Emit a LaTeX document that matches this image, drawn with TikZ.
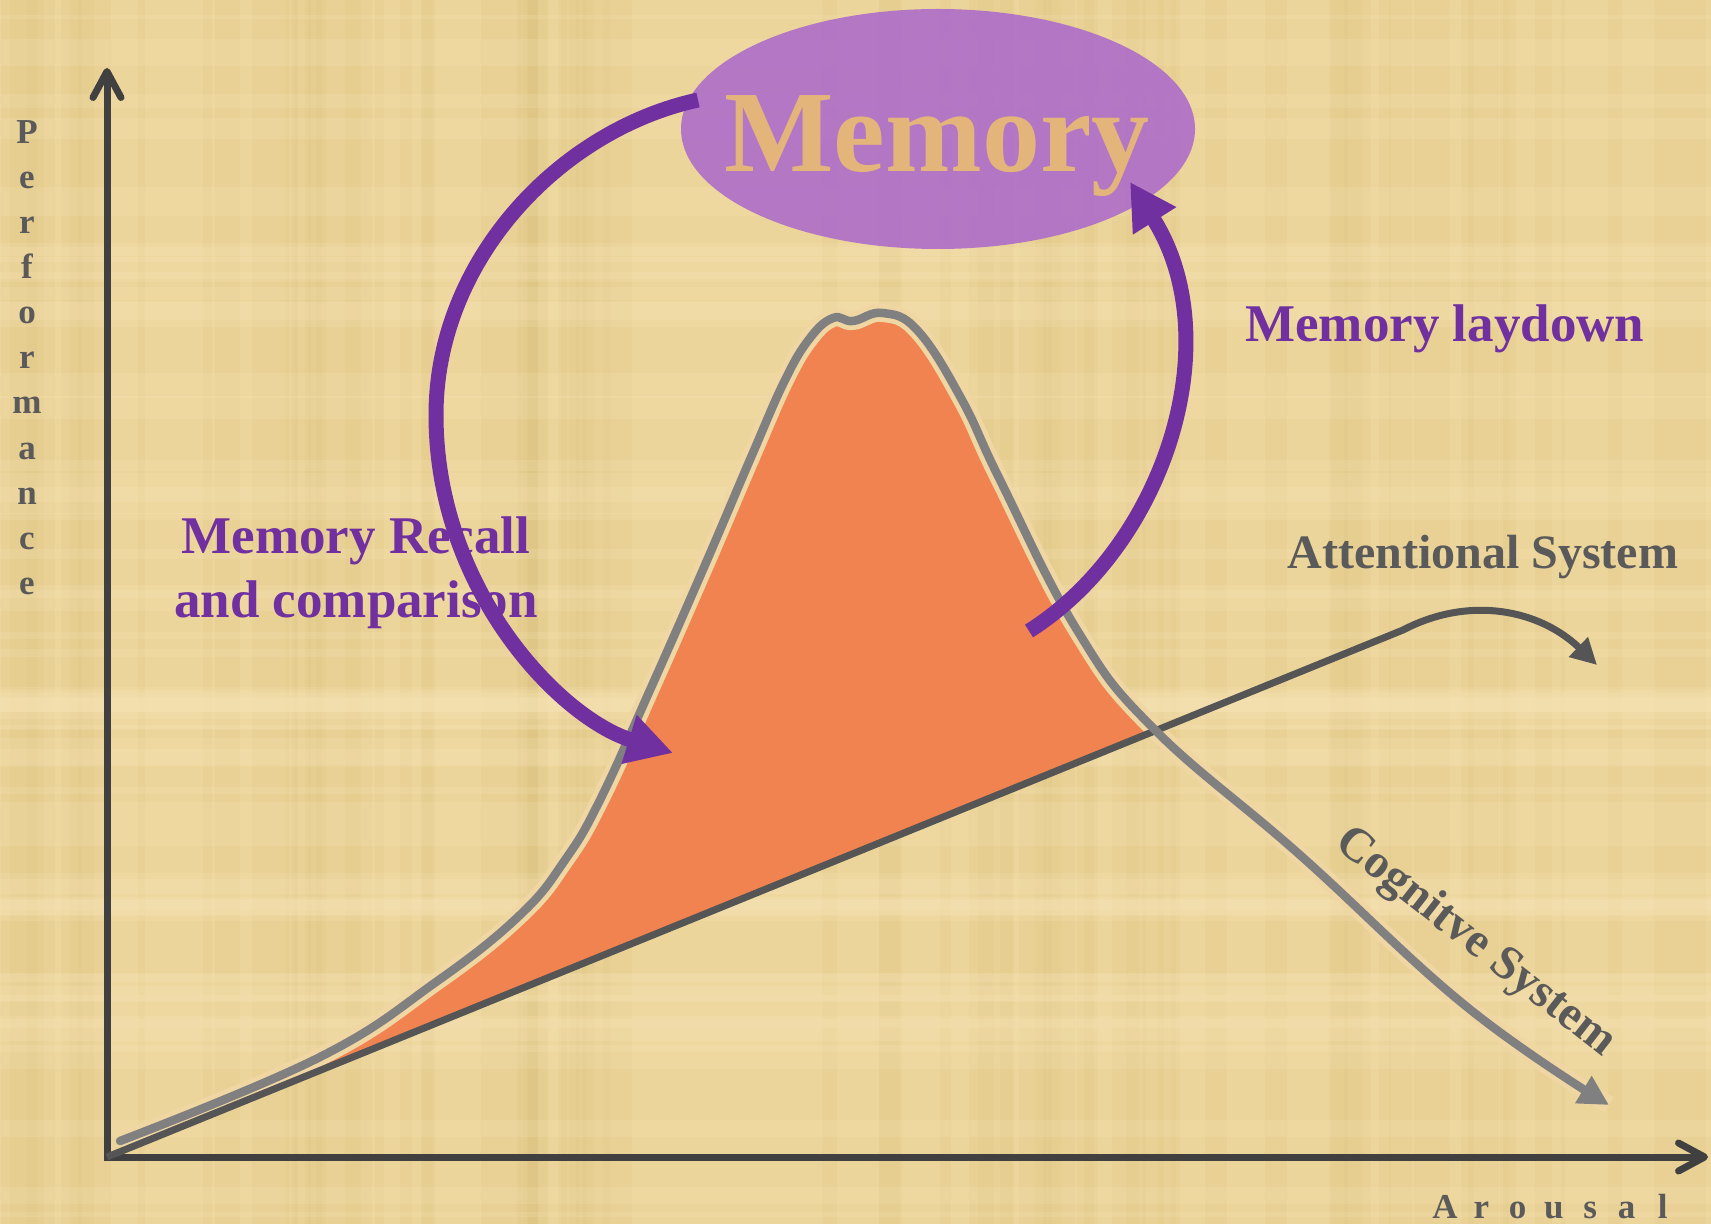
\documentclass[tikz,border=0pt]{standalone}
\usepackage{fontspec}
\setmainfont{Liberation Serif}
\usetikzlibrary{arrows.meta,positioning,shapes.geometric}
\definecolor{papyrus}{RGB}{236,213,155}
\definecolor{papyrusdark}{RGB}{214,186,118}
\definecolor{papyruslight}{RGB}{250,232,188}
\definecolor{axisgray}{RGB}{64,64,64}
\definecolor{attgray}{RGB}{85,85,85}
\definecolor{coggray}{RGB}{128,128,128}
\definecolor{labelgray}{RGB}{90,90,90}
\definecolor{memviolet}{RGB}{112,48,160}
\definecolor{memfill}{RGB}{177,114,199}
\definecolor{memtext}{RGB}{228,181,122}
\definecolor{bandorange}{RGB}{241,131,80}
\definecolor{rimpale}{RGB}{240,214,162}

\begin{document}
\begin{tikzpicture}[
  x=0.5pt, y=-0.5pt,
  axisbarb/.tip={Straight Barb[length=13pt, width=14pt, round]},
  axis/.style={draw=axisgray, line width=3.5pt, line join=miter},
  letter/.style={text=labelgray, font=\fontsize{17.5}{20}\selectfont\bfseries, inner sep=0pt, anchor=base},
  curvelabel/.style={text=labelgray, font=\fontsize{24}{28}\selectfont\bfseries, inner sep=0pt},
  memlabel/.style={text=memviolet, font=\fontsize{26.5}{32}\selectfont\bfseries, inner sep=0pt, align=center},
  memarrow/.style={draw=memviolet, line width=7.5pt, -{Triangle[length=23pt, width=24pt]}},
]
\fill[papyrus] (0,0) rectangle (1711,1224);
\useasboundingbox (0,0) rectangle (1711,1224);
% papyrus weave
\pgfmathsetseed{11}
\foreach \k in {1,...,70} {
  \pgfmathsetmacro{\bx}{rnd*1711}
  \pgfmathsetmacro{\bw}{4+rnd*36}
  \fill[papyrusdark, opacity=0.13] (\bx,0) rectangle ++(\bw,1224);
}
\foreach \k in {1,...,50} {
  \pgfmathsetmacro{\by}{rnd*1224}
  \pgfmathsetmacro{\bh}{4+rnd*30}
  \fill[papyruslight, opacity=0.18] (0,\by) rectangle ++(1711,\bh);
}

\coordinate (origin) at (107,1157);
\coordinate (ytop) at (107,68);
\coordinate (xend) at (1708,1157);
\coordinate (attbend) at (1403,630);
\coordinate (attend) at (1597,665);

\def\cogcurve{plot[smooth, tension=0.7] coordinates {(120,1141) (318,1058) (436,982) (520,915) (565,860) (600,800) (650,690) (705,565) (752,455) (785,380) (810,338) (833,318) (853,321) (883,313) (918,331) (962,400) (1000,480) (1077,630) (1154,729) (1300,855) (1467,1007) (1609,1105)}}

% band between the two systems
\begin{scope}
  \clip (origin) -- (attbend) -- (1403,0) -- (107,0) -- cycle;
  \fill[bandorange] \cogcurve -- cycle;
\end{scope}
\draw[rimpale, line width=9pt] \cogcurve;

\draw[axis, axisbarb-axisbarb] (ytop) -- (origin) -- (xend);
\draw[attgray, line width=3.5pt, -{Triangle[length=13pt, width=13pt]}] (origin) -- (attbend) .. controls (1470,595) and (1540,610) .. (attend);
\draw[coggray, line width=4.25pt, -{Triangle[length=15pt, width=15pt]}] \cogcurve;
\fill[coggray] (120,1141) circle (2.1pt);

\foreach \ch [count=\i from 0] in {P,e,r,f,o,r,m,a,n,c,e}
  \node[letter] (perf\i) at (27,144+45*\i) {\ch};
\foreach \ch [count=\i from 0] in {A,r,o,u,s,a,l}
  \node[letter] (arou\i) at (1445+36.3*\i,1218) {\ch};

\node[ellipse, fill=memfill, fill opacity=0.95, minimum width=257pt, minimum height=120pt, inner sep=0pt] (mem) at (938,129) {};
\node[text=memtext, font=\fontsize{58}{58}\selectfont\bfseries, inner sep=0pt, anchor=base] (memword) at (937,172) {Memory};

\node[memlabel, anchor=base west] (laydown) at (1245,342) {Memory laydown};
\node[memlabel] (recall) at (356,573) {Memory Recall\\and comparison};
\node[curvelabel, anchor=base west] (attlabel) at (1287,568) {Attentional System};
\node[curvelabel, rotate=-38] (coglabel) at (1475,943) {Cognitve System};

\coordinate (recallstart) at (698,100);
\coordinate (recallleft) at (436,415);
\coordinate (recalltip) at (673,753);
\coordinate (laystart) at (1029,631);
\coordinate (laytip) at (1130,182);
\draw[memarrow] (recallstart) .. controls (560,130) and (436,260) .. (recallleft)
  .. controls (436,590) and (560,718) .. (recalltip);
\draw[memarrow] (laystart) .. controls (1165,545) and (1230,340) .. (laytip);
\end{tikzpicture}
\end{document}
